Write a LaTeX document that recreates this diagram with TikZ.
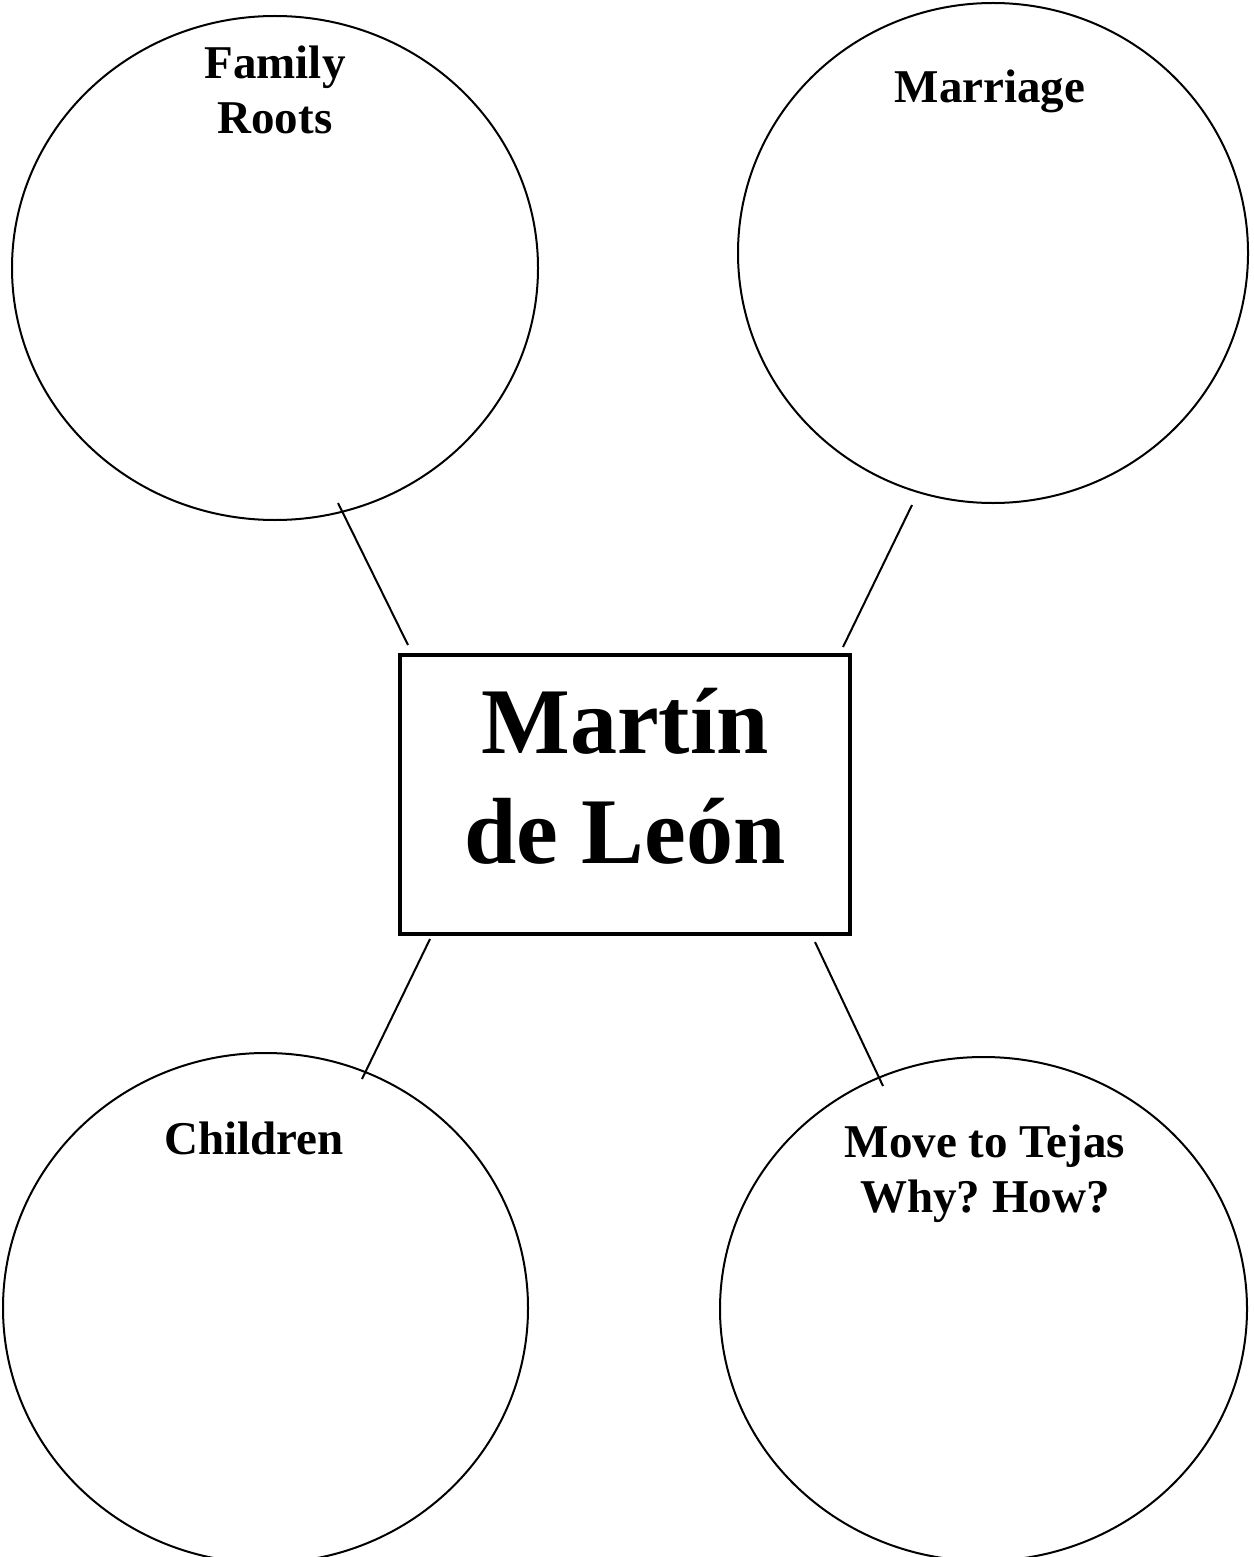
\documentclass[tikz,border=0pt]{standalone}
\usepackage{fontspec}
\setmainfont{Liberation Serif}
\usetikzlibrary{shapes.geometric}
\frenchspacing

\tikzset{
  burbuja/.style={draw, ellipse, line width=1pt, inner sep=0pt},
  titulo/.style={font=\bfseries\fontsize{23.5}{27.5}\selectfont, align=center, anchor=base, inner sep=0pt},
  enlace/.style={line width=1pt}
}

\begin{document}
\begin{tikzpicture}[x=0.5pt,y=-0.5pt]
   \useasboundingbox (0,0) rectangle (1253,1557);

   %Cuadro central con el nombre
   \node[draw, line width=2pt, minimum width=225pt, minimum height=139.5pt, inner sep=0pt] (caja) at (625,794.5) {};
   \node[font=\bfseries\fontsize{47}{55}\selectfont, align=center, anchor=base, inner sep=0pt] (nombre) at (625,863) {Martín\\de León};

   %Circulos de los temas
   \node[burbuja, minimum width=263pt, minimum height=252pt] (raices) at (275,268) {};
   \node[burbuja, minimum width=255pt, minimum height=250pt] (boda) at (993,253) {};
   \node[burbuja, minimum width=262.5pt, minimum height=255pt] (hijos) at (265.5,1308) {};
   \node[burbuja, minimum width=263.5pt, minimum height=252pt] (tejas) at (983.5,1309) {};

   %Titulos (la base es la de la ultima linea)
   \node[titulo] (t-raices) at (275,134) {Family\\Roots};
   \node[titulo] (t-boda) at (990,103) {Marriage};
   \node[titulo] (t-hijos) at (254,1154) {Children};
   \node[titulo] (t-tejas) at (985,1212) {Move to Tejas\\Why? How?};

   %Lineas del cuadro a los circulos
   \coordinate (p-raices) at (338,503);
   \coordinate (p-boda) at (912,505);
   \coordinate (p-hijos) at (362,1079);
   \coordinate (p-tejas) at (883,1086);
   \draw[enlace] ([xshift=5pt,yshift=4pt]caja.north west) -- (p-raices);
   \draw[enlace] ([xshift=-4.5pt,yshift=3pt]caja.north east) -- (p-boda);
   \draw[enlace] ([xshift=16pt,yshift=-1.5pt]caja.south west) -- (p-hijos);
   \draw[enlace] ([xshift=-18.5pt,yshift=-3pt]caja.south east) -- (p-tejas);
\end{tikzpicture}
\end{document}
